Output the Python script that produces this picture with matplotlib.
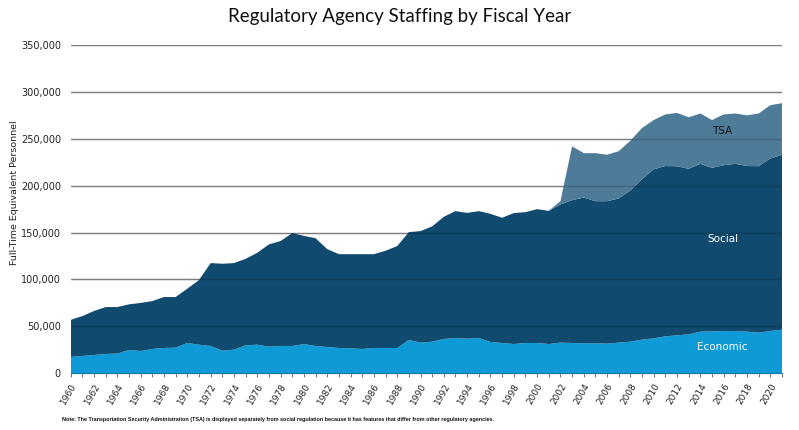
import numpy as np
import matplotlib.pyplot as plt
from matplotlib.ticker import FuncFormatter, MultipleLocator

years = list(range(1960, 2022))

economic = [17400, 18500, 19500, 20600, 21000, 24900, 23800, 25900, 27000, 27300,
            32300, 30500, 29100, 24100, 25200, 29800, 30500, 28400, 29100, 29100,
            31200, 29100, 28000, 27000, 26600, 25900, 27000, 27000, 27000, 35500,
            32700, 33700, 36600, 37600, 36900, 37600, 33400, 32300, 31200, 32300,
            32300, 31200, 32700, 32300, 32000, 32000, 31600, 32700, 33700, 35900,
            37300, 39400, 40500, 41500, 44400, 44700, 45100, 45100, 44400, 43300,
            45100, 46500]

social = [39600, 42500, 46900, 50000, 49600, 48600, 51200, 51100, 54300, 54000,
          57900, 68900, 88400, 92700, 92300, 92200, 98000, 109000, 111900, 120400,
          115300, 114900, 104400, 100000, 100400, 101100, 100000, 103600, 108600, 115000,
          118900, 122900, 130300, 135300, 134100, 135300, 136600, 133500, 139600, 139500,
          142700, 142000, 147300, 152300, 155400, 151500, 151900, 153700, 161300, 171100,
          180200, 181600, 180200, 176500, 178900, 174300, 176800, 178200, 176600, 177500,
          183900, 186500]

tsa = [0] * 42 + [3500, 57400, 47300, 51200, 49500, 50400, 53000, 54600, 52500, 55000,
                  56900, 55000, 53700, 51000, 54100, 53700, 54000, 56200, 56800, 55000]

series_colors = ["#0e9ad6", "#104a6e", "#4e7b97"]

fig = plt.figure(figsize=(7.99, 4.30), dpi=100)
ax = fig.add_axes([0.0885, 0.1319, 0.8902, 0.7634])

ax.set_ylim(0, 350000)
ax.set_xlim(1960, 2021)
ax.yaxis.set_major_locator(MultipleLocator(50000))

# gray grid behind, faint dark lines on top so they show through the areas
ax.grid(axis="y", color="#9a9a9a", linewidth=1.0)
ax.set_axisbelow(True)
ax.stackplot(years, economic, social, tsa, colors=series_colors,
             linewidth=0, zorder=1)
ax.hlines(np.arange(50000, 350001, 50000), 1960, 2021, color="black",
          alpha=0.18, linewidth=1.0, zorder=2)

ax.yaxis.set_major_formatter(FuncFormatter(lambda v, p: f"{int(v):,}"))
ax.tick_params(axis="y", length=0, labelsize=7, pad=7, colors="#222222")

ax.set_xticks(years)
ax.set_xticklabels([str(y) if y % 2 == 0 else "" for y in years],
                   rotation=60, ha="right", rotation_mode="anchor", fontsize=6.5)
ax.tick_params(axis="x", length=3, color="#777777", pad=3, labelcolor="#222222")

for s in ["top", "right", "left"]:
    ax.spines[s].set_visible(False)
ax.spines["bottom"].set_color("#0b78aa")

ax.set_ylabel("Full-Time Equivalent Personnel", fontsize=6.8, color="#222222")
ax.yaxis.set_label_coords(-0.0727, 0.55)

ax.text(2015.9, 258000, "TSA", color="#111111", fontsize=7.5, ha="center", va="center", zorder=4)
ax.text(2015.9, 143000, "Social", color="white", fontsize=7.5, ha="center", va="center", zorder=4)
ax.text(2015.9, 28000, "Economic", color="white", fontsize=7.5, ha="center", va="center", zorder=4)

fig.text(0.5, 0.962, "Regulatory Agency Staffing by Fiscal Year", ha="center", va="center",
         fontsize=13.5, color="#111111", family=["Lato", "DejaVu Sans"])

fig.text(0.0776, 0.025, "Note: The Transportation Security Administration (TSA) is displayed separately "
         "from social regulation because it has features that differ from other regulatory agencies.",
         ha="left", va="center", fontsize=3.9, fontweight="bold", color="#111111",
         fontstretch="condensed", family=["Liberation Sans", "DejaVu Sans"])

fig.savefig("out.png", dpi=100)
